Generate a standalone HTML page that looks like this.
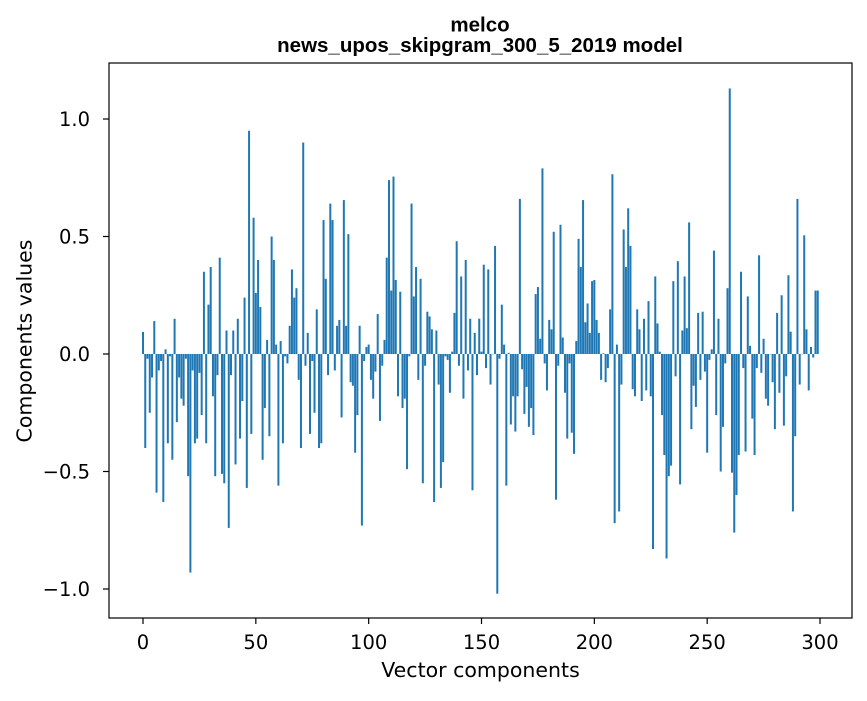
<!DOCTYPE html>
<html><head><meta charset="utf-8"><style>
html,body{margin:0;padding:0;background:#fff;}
svg text{font-family:"DejaVu Sans","Liberation Sans",sans-serif;fill:#000;}
svg text.ttl{font-family:"Liberation Sans","DejaVu Sans",sans-serif;}
</style></head><body>
<svg id="chart" width="867" height="696" viewBox="0 0 867 696">
<rect width="867" height="696" fill="#fff"/>
<text class="ttl" x="480" y="31.5" text-anchor="middle" font-size="20.5" font-weight="bold">melco</text>
<text class="ttl" x="480" y="52" text-anchor="middle" font-size="20.5" font-weight="bold">news_upos_skipgram_300_5_2019 model</text>
<g id="bars"></g>
<g id="axes"></g>
<text x="480.5" y="677" text-anchor="middle" font-size="20.5">Vector components</text>
<text transform="translate(31.5,341) rotate(-90)" text-anchor="middle" font-size="20.5">Components values</text>
</svg>
<script>
const values = [
0.094,-0.40,-0.02,-0.25,-0.10,0.14,-0.59,-0.07,-0.03,-0.63,
0.02,-0.38,-0.01,-0.45,0.15,-0.29,-0.10,-0.19,-0.22,-0.02,
-0.52,-0.93,-0.07,-0.38,-0.36,-0.08,-0.26,0.35,-0.38,0.21,
0.37,-0.18,-0.52,-0.09,0.41,-0.51,-0.55,0.10,-0.74,-0.09,
0.10,-0.47,0.15,-0.36,-0.20,0.24,-0.57,0.95,-0.34,0.58,
0.26,0.40,0.20,-0.45,-0.23,0.06,-0.35,0.50,0.40,0.04,
-0.56,0.055,-0.38,-0.01,-0.04,0.12,0.36,0.24,0.28,-0.11,
-0.40,0.90,-0.05,0.09,-0.34,-0.03,-0.25,0.19,-0.40,-0.38,
0.57,0.32,-0.09,0.64,0.57,-0.07,0.12,0.145,-0.27,0.655,
0.12,0.51,-0.12,-0.135,-0.42,-0.26,0.12,-0.73,-0.03,0.03,
0.04,-0.11,-0.19,-0.075,0.17,-0.285,-0.05,0.06,0.41,0.74,
0.27,0.755,0.315,-0.18,0.265,-0.23,-0.19,-0.49,-0.01,0.64,
0.245,0.37,-0.11,0.32,-0.55,-0.05,0.18,0.16,0.105,-0.63,
0.10,-0.13,-0.57,-0.46,-0.01,-0.025,-0.165,0.01,0.175,0.48,
-0.05,0.33,-0.19,0.40,-0.07,0.15,-0.58,0.09,-0.09,0.15,
0.01,0.38,-0.06,0.36,-0.13,0.0,0.46,-1.02,-0.02,0.21,
0.04,-0.56,0.005,-0.30,-0.18,-0.33,-0.18,0.66,-0.065,-0.255,
-0.14,-0.31,-0.23,-0.345,0.255,0.285,0.065,0.79,-0.04,-0.155,
0.145,0.105,0.52,-0.62,-0.05,0.55,0.07,-0.165,-0.36,-0.04,
-0.335,-0.425,0.055,0.49,0.37,0.655,0.135,0.215,0.09,0.31,
0.315,0.145,0.09,-0.11,0.003,-0.12,-0.06,0.19,0.765,-0.72,
0.04,-0.67,-0.13,0.53,0.37,0.62,0.46,-0.15,-0.18,0.19,
0.105,-0.20,0.15,-0.155,0.225,-0.18,-0.83,0.33,0.13,0.01,
-0.26,-0.43,-0.87,-0.52,-0.475,0.31,-0.095,0.395,-0.555,0.10,
0.33,0.11,0.56,-0.32,-0.135,-0.225,0.175,-0.11,0.18,-0.075,
-0.42,-0.025,0.02,0.44,-0.26,0.15,-0.50,-0.31,-0.04,0.28,
1.13,-0.505,-0.76,-0.60,-0.43,0.35,-0.06,-0.415,0.245,0.035,
-0.275,-0.43,-0.06,0.42,-0.08,0.065,-0.19,-0.22,0.0,-0.12,
-0.32,0.175,-0.165,0.25,-0.305,-0.095,0.335,0.095,-0.67,-0.35,
0.66,-0.13,0.0,0.505,0.105,-0.155,0.03,-0.015,0.27,0.27
];
const xTicks = [0,50,100,150,200,250,300];
const yTicks = [-1.0,-0.5,0.0,0.5,1.0];
const yTickLabels = ["\u22121.0","\u22120.5","0.0","0.5","1.0"];

const NS="http://www.w3.org/2000/svg";
const plot={left:109,right:852,top:63,bottom:618};
function xScale(v){return 143+v*2.2567;}
function yScale(v){return 354-v*235;}
const barsG=document.getElementById('bars');
values.forEach(function(v,i){
  const r=document.createElementNS(NS,'rect');
  const w=2.0;
  const y0=yScale(0), y1=yScale(v);
  r.setAttribute('x',xScale(i)-w/2);
  r.setAttribute('y',Math.min(y0,y1));
  r.setAttribute('width',w);
  r.setAttribute('height',Math.max(Math.abs(y1-y0),0.3));
  r.setAttribute('fill','#1f77b4');
  
  
  barsG.appendChild(r);
});
const ax=document.getElementById('axes');
const frame=document.createElementNS(NS,'rect');
frame.setAttribute('x',plot.left);frame.setAttribute('y',plot.top);
frame.setAttribute('width',plot.right-plot.left);frame.setAttribute('height',plot.bottom-plot.top);
frame.setAttribute('fill','none');frame.setAttribute('stroke','#000');frame.setAttribute('stroke-width','1.2');


ax.appendChild(frame);
xTicks.forEach(function(t){
  const x=xScale(t);
  const l=document.createElementNS(NS,'line');
  l.setAttribute('x1',x);l.setAttribute('x2',x);l.setAttribute('y1',plot.bottom);l.setAttribute('y2',plot.bottom+6);
  l.setAttribute('stroke','#000');l.setAttribute('stroke-width','1.2');
  
  
  ax.appendChild(l);
  const tx=document.createElementNS(NS,'text');
  tx.setAttribute('x',x);tx.setAttribute('y',plot.bottom+31);tx.setAttribute('text-anchor','middle');tx.setAttribute('font-size','19.5');
  tx.textContent=String(t);
  
  
  ax.appendChild(tx);
});
yTicks.forEach(function(t,i){
  const y=yScale(t);
  const l=document.createElementNS(NS,'line');
  l.setAttribute('x1',plot.left-6);l.setAttribute('x2',plot.left);l.setAttribute('y1',y);l.setAttribute('y2',y);
  l.setAttribute('stroke','#000');l.setAttribute('stroke-width','1.2');
  
  
  ax.appendChild(l);
  const tx=document.createElementNS(NS,'text');
  tx.setAttribute('x',plot.left-19);tx.setAttribute('y',y+7);tx.setAttribute('text-anchor','end');tx.setAttribute('font-size','19.5');
  tx.textContent=yTickLabels[i];
  
  
  ax.appendChild(tx);
});
</script>
</body></html>
